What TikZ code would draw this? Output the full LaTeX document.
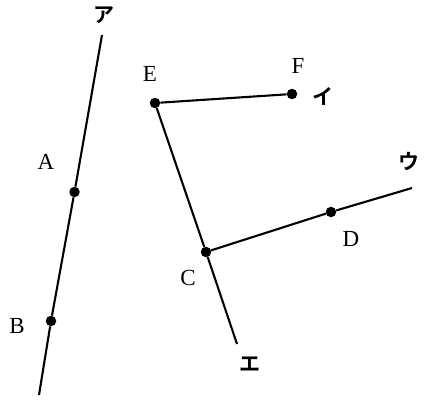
\documentclass[tikz,border=0pt]{standalone}
\usepackage{fontspec}
\setmainfont{Liberation Serif}
\newfontfamily\jpfont{Noto Sans CJK JP}[BoldFont={* Bold}]
\usetikzlibrary{positioning}
\usetikzlibrary{calc}

\begin{document}
\begin{tikzpicture}[x=1pt,y=-1pt,
    pt/.style={circle, fill=black, inner sep=0pt, minimum size=10.5pt},
    lbl/.style={inner sep=0pt, font=\fontsize{23}{26}\selectfont},
    kana/.style={inner sep=0pt, font=\jpfont\bfseries\fontsize{21}{24}\selectfont}]
				\useasboundingbox (0,0) rectangle (434,404);
				
				% draw points
				\node[pt] (A) at (74.5,192) {};
				\node[pt] (B) at (51,321) {};
				\node[pt] (C) at (206,252) {};
				\node[pt] (D) at (331,212) {};
				\node[pt] (E) at (155,103) {};
				\node[pt] (F) at (292,94) {};
				
				% free ends of the lines
				\coordinate (aTop) at (102,35);
				\coordinate (aBot) at (39,395);
				\coordinate (eEnd) at (237,344);
				\coordinate (uEnd) at (412,188);
				
				% draw lines
				\draw[line width=2.1pt] (aTop) -- (A) -- (B) -- (aBot);
				\draw[line width=2.1pt] (F) -- (E) -- (C) -- (eEnd);
				\draw[line width=2.1pt] (C) -- (D) -- (uEnd);
				
				% draw point labels
				\node[lbl] (labA) at (46,162) {A};
				\node[lbl] (labB) at (17,326) {B};
				\node[lbl] (labC) at (188,278) {C};
				\node[lbl] (labD) at (351,239) {D};
				\node[lbl] (labE) at (150,74) {E};
				\node[lbl] (labF) at (298,66) {F};
				
				% draw line labels
				\node[kana] (labAa) at (104,15) {ア};
				\node[kana] (labI) at (323,96) {イ};
				\node[kana] (labU) at (409,162) {ウ};
				\node[kana] (labEe) at (250,364) {エ};
\end{tikzpicture}
\end{document}
